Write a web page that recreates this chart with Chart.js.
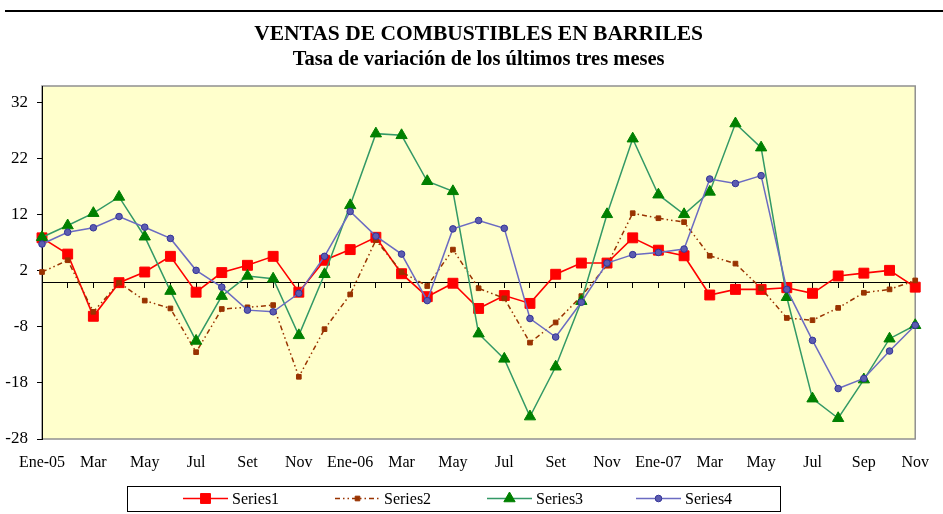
<!DOCTYPE html>
<html>
<head>
<meta charset="utf-8">
<script src="https://cdn.jsdelivr.net/npm/chart.js@4.4.1/dist/chart.umd.min.js"></script>
<style>
  html, body { margin: 0; padding: 0; background: #ffffff; }
  #wrap { width: 943px; height: 514px; position: relative; }
</style>
</head>
<body>
<div id="wrap"><canvas id="c" width="943" height="514"></canvas></div>
<script>
// ---------------- DATA ----------------
const months = [
  'Ene-05','Feb','Mar','Abr','May','Jun','Jul','Ago','Set','Oct','Nov','Dic',
  'Ene-06','Feb','Mar','Abr','May','Jun','Jul','Ago','Set','Oct','Nov','Dic',
  'Ene-07','Feb','Mar','Abr','May','Jun','Jul','Ago','Sep','Oct','Nov'
];
const yTicks = [-28, -18, -8, 2, 12, 22, 32];
const seriesNames = ['Series1', 'Series2', 'Series3', 'Series4'];

const series1 = [7.9, 5.0, -6.1, -0.1, 1.8, 4.6, -1.8, 1.7, 3.0, 4.6, -1.8, 3.9,
                 5.8, 8.0, 1.5, -2.6, -0.2, -4.7, -2.4, -3.8, 1.4, 3.4, 3.4, 7.9,
                 5.7, 4.7, -2.3, -1.3, -1.3, -1.0, -2.0, 1.1, 1.6, 2.1, -0.9];
const series2 = [1.8, 3.9, -5.3, -0.1, -3.3, -4.7, -12.5, -4.8, -4.5, -4.1, -16.9, -8.4,
                 -2.2, 7.5, 1.8, -0.7, 5.8, -1.1, -2.9, -10.8, -7.2, -2.5, 3.0, 12.3,
                 11.4, 10.7, 4.7, 3.3, -1.1, -6.4, -6.8, -4.6, -1.9, -1.3, 0.3];
const series3 = [8.0, 10.1, 12.3, 15.2, 8.1, -1.6, -10.5, -2.5, 1.1, 0.6, -9.5, 1.4,
                 13.7, 26.5, 26.2, 18.0, 16.2, -9.2, -13.7, -24.0, -15.1, -3.4, 12.1, 25.6,
                 15.6, 12.1, 16.1, 28.3, 24.0, -2.7, -20.8, -24.3, -17.4, -10.1, -7.7];
const series4 = [6.8, 8.9, 9.7, 11.7, 9.8, 7.8, 2.1, -0.9, -5.0, -5.3, -2.0, 4.6,
                 12.6, 8.2, 5.0, -3.3, 9.5, 11.0, 9.6, -6.5, -9.8, -3.6, 3.4, 4.9,
                 5.3, 5.9, 18.4, 17.6, 19.0, -1.3, -10.4, -19.0, -17.2, -12.3, -7.7];

// ---------------- STYLE ----------------
const FONT = "'Liberation Serif', 'Times New Roman', serif";
Chart.defaults.font.family = FONT;
Chart.defaults.color = '#000000';

function drawMarker(ctx, style, r, x, y) {
  ctx.beginPath();
  if (style === 'rect') {
    const s = r * Math.SQRT1_2;
    ctx.rect(x - s, y - s, 2 * s, 2 * s);
  } else if (style === 'triangle') {
    ctx.moveTo(x, y - r);
    ctx.lineTo(x + r * 0.866, y + r / 2);
    ctx.lineTo(x - r * 0.866, y + r / 2);
    ctx.closePath();
  } else {
    ctx.arc(x, y, r, 0, Math.PI * 2);
  }
  ctx.fill();
  ctx.stroke();
}

const plotBg = {
  id: 'plotBg',
  beforeDraw(chart) {
    const { ctx, chartArea: a } = chart;
    ctx.save();
    ctx.fillStyle = '#ffffff';
    ctx.fillRect(0, 0, chart.width, chart.height);
    ctx.fillStyle = '#000000';
    ctx.fillRect(5, 10, chart.width - 5, 2);
    ctx.fillStyle = '#FFFFCC';
    ctx.fillRect(a.left, a.top, a.right - a.left, a.bottom - a.top);
    ctx.strokeStyle = '#909090';
    ctx.lineWidth = 1.5;
    ctx.strokeRect(a.left, a.top, a.right - a.left, a.bottom - a.top);
    ctx.restore();
  }
};

const legendBox = {
  id: 'legendBox',
  afterDraw(chart) {
    const ctx = chart.ctx;
    const startX = [183, 335, 487, 636];
    const y = 498.5;
    ctx.save();
    ctx.strokeStyle = '#000000';
    ctx.lineWidth = 1;
    ctx.strokeRect(127.5, 486.5, 653, 25);
    chart.data.datasets.forEach((ds, i) => {
      const x0 = startX[i];
      ctx.save();
      ctx.strokeStyle = ds.borderColor;
      ctx.lineWidth = ds.borderWidth;
      ctx.setLineDash(ds.borderDash || []);
      ctx.beginPath();
      ctx.moveTo(x0, y);
      ctx.lineTo(x0 + 45, y);
      ctx.stroke();
      ctx.setLineDash([]);
      ctx.fillStyle = ds.pointBackgroundColor;
      ctx.strokeStyle = ds.pointBorderColor;
      ctx.lineWidth = ds.pointBorderWidth;
      drawMarker(ctx, ds.pointStyle, ds.pointRadius, x0 + 22.5, y);
      ctx.restore();
      ctx.fillStyle = '#000000';
      ctx.font = "16px " + FONT;
      ctx.textBaseline = 'middle';
      ctx.textAlign = 'left';
      ctx.fillText(ds.label, x0 + 49, y + 1);
    });
    ctx.restore();
  }
};

const chart = new Chart(document.getElementById('c'), {
  type: 'line',
  data: {
    labels: months,
    datasets: [
      {
        label: seriesNames[0], data: series1, order: 4, clip: false,
        borderColor: '#FF0000', borderWidth: 1.6,
        pointStyle: 'rect', pointRadius: 7, pointBackgroundColor: '#FF0000',
        pointBorderColor: '#FF0000', pointBorderWidth: 1, tension: 0
      },
      {
        label: seriesNames[1], data: series2, order: 3, clip: false,
        borderColor: '#993300', borderWidth: 1.5, borderDash: [5, 3, 1.5, 3, 1.5, 3],
        pointStyle: 'rect', pointRadius: 3.3, pointBackgroundColor: '#993300',
        pointBorderColor: '#993300', pointBorderWidth: 1, tension: 0
      },
      {
        label: seriesNames[2], data: series3, order: 2, clip: false,
        borderColor: '#339966', borderWidth: 1.5,
        pointStyle: 'triangle', pointRadius: 6.5, pointBackgroundColor: '#008000',
        pointBorderColor: '#008000', pointBorderWidth: 1, tension: 0
      },
      {
        label: seriesNames[3], data: series4, order: 1, clip: false,
        borderColor: '#6B6BC2', borderWidth: 1.5,
        pointStyle: 'circle', pointRadius: 3.3, pointBackgroundColor: '#5C5CB0',
        pointBorderColor: '#333399', pointBorderWidth: 1, tension: 0
      }
    ]
  },
  options: {
    responsive: false,
    animation: false,
    events: [],
    devicePixelRatio: 1,
    layout: { padding: { left: 0, right: 0, top: 0, bottom: 41 } },
    plugins: {
      legend: { display: false },
      tooltip: { enabled: false },
      title: {
        display: true,
        fullSize: false,
        text: 'VENTAS DE COMBUSTIBLES EN BARRILES',
        color: '#000000',
        font: { size: 21.5, weight: 'bold', family: FONT, lineHeight: 1.2 },
        padding: { top: 22, bottom: 0 }
      },
      subtitle: {
        display: true,
        fullSize: false,
        text: 'Tasa de variación de los últimos tres meses',
        color: '#000000',
        font: { size: 20.5, weight: 'bold', family: FONT, lineHeight: 1.0 },
        padding: { top: 2, bottom: 15.7 }
      }
    },
    scales: {
      x: {
        type: 'category',
        position: 'bottom',
        offset: false,
        grid: { display: false, drawTicks: false },
        border: { display: false },
        ticks: {
          autoSkip: false, maxRotation: 0, minRotation: 0, padding: 14,
          color: '#000000', font: { size: 16, family: FONT },
          callback: (v, i) => (i % 2 === 0 ? months[i] : '')
        },
        afterFit: (s) => { s.height = 34; }
      },
      x0: {
        type: 'category',
        position: { y: 0 },
        offset: false,
        grid: { display: true, drawOnChartArea: false, drawTicks: true, tickLength: 5, color: '#000000', lineWidth: 1 },
        border: { display: true, color: '#000000', width: 1 },
        ticks: { display: false, autoSkip: false }
      },
      y: {
        type: 'linear',
        position: 'left',
        min: -28,
        max: 35,
        afterBuildTicks: (s) => { s.ticks = yTicks.map(v => ({ value: v })); },
        grid: { display: true, drawOnChartArea: false, drawTicks: true, tickLength: 5, color: '#000000', lineWidth: 1 },
        border: { display: true, color: '#000000', width: 1 },
        ticks: {
          padding: 9, color: '#000000', font: { size: 17, family: FONT },
          callback: (v) => String(v)
        },
        afterFit: (s) => { s.width = 42; }
      },
      yR: {
        type: 'linear',
        position: 'right',
        display: true,
        grid: { display: false, drawTicks: false },
        border: { display: false },
        ticks: { display: false },
        afterFit: (s) => { s.width = 19; }
      }
    }
  },
  plugins: [plotBg, legendBox]
});
</script>
</body>
</html>
